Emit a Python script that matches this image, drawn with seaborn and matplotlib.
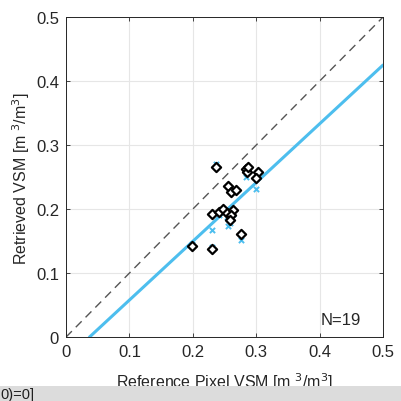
import matplotlib
matplotlib.use("Agg")
import matplotlib.pyplot as plt
from matplotlib.patches import Rectangle
import seaborn as sns

# reference vs retrieved soil moisture (diamonds)
ref_vsm = [0.236, 0.284, 0.286, 0.303, 0.299, 0.256, 0.260, 0.268, 0.231, 0.242,
           0.248, 0.254, 0.263, 0.260, 0.258, 0.276, 0.199, 0.231, 0.287]
ret_vsm = [0.266, 0.2625, 0.258, 0.258, 0.248, 0.236, 0.226, 0.230, 0.193, 0.196,
           0.200, 0.194, 0.199, 0.190, 0.183, 0.161, 0.143, 0.1375, 0.265]

# second retrieval (light blue crosses)
ref_x = [0.236, 0.284, 0.299, 0.231, 0.256, 0.276, 0.242, 0.258, 0.199, 0.231, 0.263, 0.254]
ret_x = [0.270, 0.250, 0.231, 0.167, 0.173, 0.152, 0.190, 0.178, 0.146, 0.140, 0.193, 0.188]

# fitted line end points
fit_x = [0.037, 0.5]
fit_y = [0.0, 0.425]

one_to_one = [0.0, 0.5]

sns.set_style("whitegrid")
plt.rcParams['font.family'] = ['Liberation Sans', 'DejaVu Sans']

fig = plt.figure(figsize=(4.01, 4.02), dpi=100)
ax = fig.add_axes([0.1646, 0.159, 0.7905, 0.796])

blue = '#4DBEEE'
ax.plot(one_to_one, one_to_one, ls=(0, (6, 4)), color='#555555', lw=1.0, zorder=2)
sns.lineplot(x=fit_x, y=fit_y, color=blue, lw=2.2, ax=ax, zorder=3)
sns.scatterplot(x=ref_x, y=ret_x, marker='x', color=blue, s=14, linewidth=1.4, ax=ax, zorder=4)
sns.scatterplot(x=ref_vsm, y=ret_vsm, marker='D', facecolor='white', edgecolor='black',
                s=22, linewidth=1.6, ax=ax, zorder=5)

ax.set_xlim(0, 0.5)
ax.set_ylim(0, 0.5)
ticks = [0, 0.1, 0.2, 0.3, 0.4, 0.5]
labels = ['0', '0.1', '0.2', '0.3', '0.4', '0.5']
ax.set_xticks(ticks)
ax.set_xticklabels(labels)
ax.set_yticks(ticks)
ax.set_yticklabels(labels)
ax.tick_params(direction='in', length=3, width=0.6, color='#262626', labelsize=12,
               labelcolor='#262626', pad=5, top=True, right=True, bottom=True, left=True)
ax.grid(True, color='#e6e6e6', lw=0.8)
for s in ax.spines.values():
    s.set_color('#262626')
    s.set_linewidth(0.7)

ax.set_ylabel('Retrieved VSM [m $^{3}$/m$^{3}$]', fontsize=11.5, color='#262626', labelpad=3)
ax.text(0.433, 0.028, 'N=19', ha='center', va='center', fontsize=12, color='#262626')

fig.text(0.56, 0.035, 'Reference Pixel VSM [m $^{3}$/m$^{3}$]', ha='center', va='baseline',
         fontsize=11.5, color='#262626')

# grey strip cut across the bottom of the screenshot
fig.add_artist(Rectangle((0, 0), 1, 0.038, transform=fig.transFigure,
                         facecolor='#dcdcdc', edgecolor='none', zorder=10))
fig.text(0.0, 0.017, '0)=0]', ha='left', va='center', fontsize=10.5, color='#202020', zorder=11)

fig.savefig('out.png', dpi=100)
